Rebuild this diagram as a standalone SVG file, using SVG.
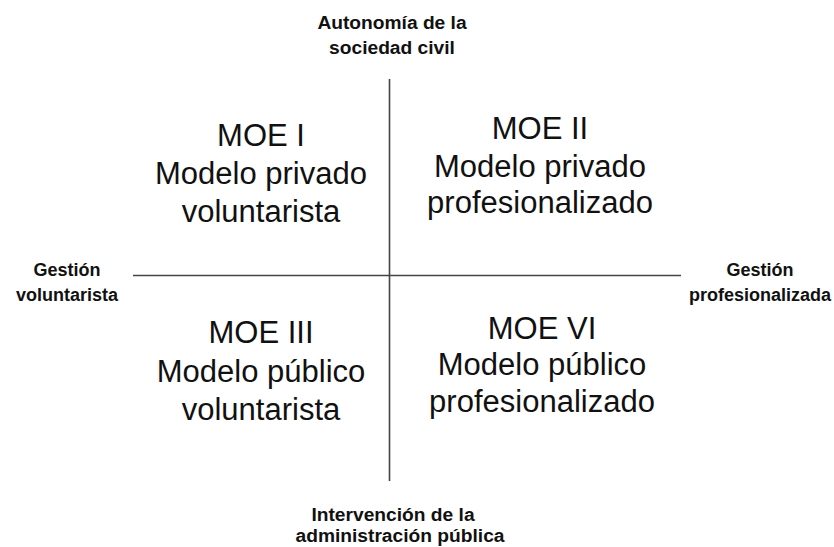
<svg xmlns="http://www.w3.org/2000/svg" width="834" height="547" viewBox="0 0 834 547">
<style>
.ax{font-family:"Liberation Sans",Arial,sans-serif;font-weight:bold;font-size:18px;fill:#111;text-anchor:middle}
.axl{font-size:19.2px}
.q{font-family:"Liberation Sans",Arial,sans-serif;font-size:31px;fill:#111;text-anchor:middle}
.ln{stroke:#444;stroke-width:1.6;fill:none}
</style>
<rect width="834" height="547" fill="#fff"/>
<g id="connectors">
<line class="ln" x1="389.5" y1="79" x2="389.5" y2="481"/>
<line class="ln" x1="133" y1="275.5" x2="681" y2="275.5"/>
</g>
<g id="axis-top"><text class="ax axl" x="392" y="29">Autonomía de la</text><text class="ax axl" x="392" y="54">sociedad civil</text></g>
<g id="axis-left"><text class="ax" x="67" y="276">Gestión</text><text class="ax" x="67" y="301">voluntarista</text></g>
<g id="axis-right"><text class="ax" x="760" y="276">Gestión</text><text class="ax" x="760" y="301">profesionalizada</text></g>
<g id="axis-bottom"><text class="ax axl" x="393" y="521">Intervención de la</text><text class="ax axl" x="400" y="542" font-size="19.6">administración pública</text></g>
<g id="moe1"><text class="q" x="261" y="146">MOE I</text><text class="q" x="261" y="184">Modelo privado</text><text class="q" x="261" y="222">voluntarista</text></g>
<g id="moe2"><text class="q" x="540" y="139">MOE II</text><text class="q" x="540" y="177">Modelo privado</text><text class="q" x="540" y="213">profesionalizado</text></g>
<g id="moe3"><text class="q" x="261" y="343">MOE III</text><text class="q" x="261" y="382">Modelo público</text><text class="q" x="261" y="420">voluntarista</text></g>
<g id="moe4"><text class="q" x="542" y="339">MOE VI</text><text class="q" x="542" y="375">Modelo público</text><text class="q" x="542" y="412">profesionalizado</text></g>
</svg>
